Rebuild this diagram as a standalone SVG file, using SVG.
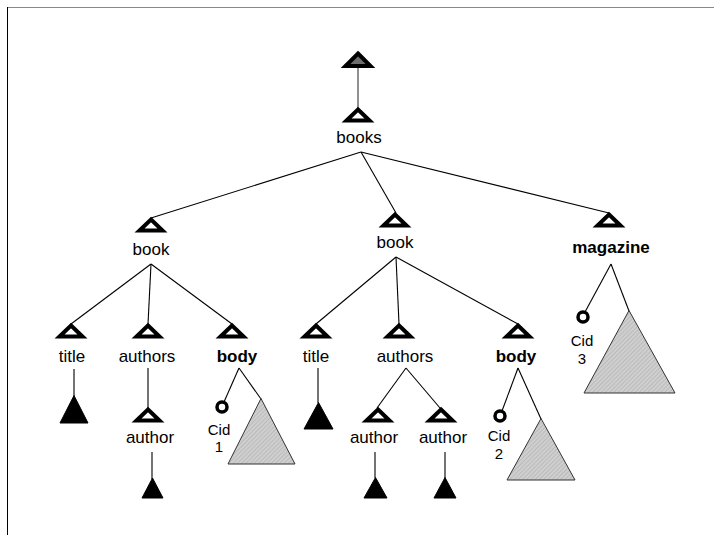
<svg xmlns="http://www.w3.org/2000/svg" width="714" height="537" viewBox="0 0 714 537">
  <style>
    .lbl { font-family: "Liberation Sans", Arial, sans-serif; font-size: 17px; fill: #000; text-anchor: middle; }
    .bold { font-weight: bold; }
    .cid { font-size: 15px; }
    .edge { stroke: #000; stroke-width: 1.1; fill: none; }
    .open { fill: #fff; stroke: #000; stroke-width: 4; stroke-linejoin: miter; }
    .leaf { fill: #000; stroke: #000; stroke-width: 1; }
    .sub { fill: url(#hatch); stroke: #333; stroke-width: 1; }
    .ref { fill: #fff; stroke: #000; stroke-width: 3.5; }
  </style>
  <defs>
    <!-- element marker: open triangle, origin at its top point -->
    <path id="elem" class="open" d="M0,2.5 L11.5,13.5 L-11.5,13.5 Z"/>
    <!-- fine grey hatching used for unexpanded subtrees -->
    <pattern id="hatch" width="3" height="3" patternUnits="userSpaceOnUse" patternTransform="rotate(45)">
      <rect width="3" height="3" fill="#cfcfcf"/>
      <line x1="0" y1="0" x2="0" y2="3" stroke="#a8a8a8" stroke-width="1"/>
    </pattern>
  </defs>

  <rect width="714" height="537" fill="#fff"/>
  <!-- frame -->
  <line x1="7" y1="7.5" x2="714" y2="7.5" stroke="#888" stroke-width="1"/>
  <line x1="7.5" y1="7" x2="7.5" y2="535" stroke="#000" stroke-width="1"/>

  <g id="connectors">
    <line x1="358" y1="68" x2="358" y2="108" stroke="#555" stroke-width="1.3"/>
    <line class="edge" x1="361" y1="152" x2="151" y2="218"/>
    <line class="edge" x1="361" y1="152" x2="396" y2="213"/>
    <line class="edge" x1="361" y1="152" x2="609" y2="213"/>
    <!-- left book -->
    <line class="edge" x1="151" y1="264" x2="71" y2="324"/>
    <line class="edge" x1="151" y1="264" x2="148" y2="324"/>
    <line class="edge" x1="151" y1="264" x2="232" y2="324"/>
    <line class="edge" x1="74" y1="369" x2="74" y2="396"/>
    <line class="edge" x1="148" y1="368" x2="148" y2="408"/>
    <line class="edge" x1="152" y1="452" x2="152" y2="479"/>
    <line class="edge" x1="239" y1="368" x2="224" y2="402"/>
    <line class="edge" x1="239" y1="368" x2="261" y2="399"/>
    <!-- middle book -->
    <line class="edge" x1="396" y1="257" x2="316" y2="324"/>
    <line class="edge" x1="396" y1="257" x2="399" y2="324"/>
    <line class="edge" x1="396" y1="257" x2="518" y2="324"/>
    <line class="edge" x1="318" y1="368" x2="318" y2="403"/>
    <line class="edge" x1="406" y1="368" x2="377" y2="408"/>
    <line class="edge" x1="406" y1="368" x2="440" y2="408"/>
    <line class="edge" x1="375" y1="452" x2="375" y2="478"/>
    <line class="edge" x1="445" y1="452" x2="445" y2="478"/>
    <line class="edge" x1="518" y1="368" x2="502" y2="411"/>
    <line class="edge" x1="518" y1="368" x2="541" y2="419"/>
    <!-- magazine -->
    <line class="edge" x1="611" y1="264" x2="585" y2="312"/>
    <line class="edge" x1="611" y1="264" x2="629" y2="311"/>
  </g>

  <g id="root">
    <path d="M358,53.5 L370.5,66 L345.5,66 Z" fill="#6e6e6e" stroke="#000" stroke-width="4"/>
  </g>

  <g id="books">
    <use href="#elem" x="358" y="107"/>
    <text class="lbl" x="359" y="143">books</text>
  </g>

  <g id="book1">
    <use href="#elem" x="151" y="217"/>
    <text class="lbl" x="151" y="255">book</text>
  </g>
  <g id="title1">
    <use href="#elem" x="71" y="323"/>
    <text class="lbl" x="72" y="362">title</text>
    <path class="leaf" d="M74,395.5 L88,423 L60,423 Z"/>
  </g>
  <g id="authors1">
    <use href="#elem" x="148" y="323"/>
    <text class="lbl" x="147" y="362">authors</text>
  </g>
  <g id="author1">
    <use href="#elem" x="148" y="407"/>
    <text class="lbl" x="150" y="443">author</text>
    <path class="leaf" d="M152.5,478 L163,498 L142,498 Z"/>
  </g>
  <g id="body1">
    <use href="#elem" x="232" y="323"/>
    <text class="lbl bold" x="237" y="362">body</text>
  </g>
  <g id="cid1">
    <circle class="ref" cx="222" cy="407" r="5"/>
    <text class="lbl cid" x="219" y="434.5">Cid</text>
    <text class="lbl cid" x="219" y="452">1</text>
  </g>
  <g id="content1">
    <path class="sub" d="M261,398.5 L295,464 L228,464 Z"/>
  </g>

  <g id="book2">
    <use href="#elem" x="395" y="212"/>
    <text class="lbl" x="395" y="248">book</text>
  </g>
  <g id="title2">
    <use href="#elem" x="316" y="323"/>
    <text class="lbl" x="316" y="362">title</text>
    <path class="leaf" d="M318.5,402.5 L333,429 L304,429 Z"/>
  </g>
  <g id="authors2">
    <use href="#elem" x="399" y="323"/>
    <text class="lbl" x="405" y="362">authors</text>
  </g>
  <g id="author2a">
    <use href="#elem" x="378" y="407"/>
    <text class="lbl" x="374" y="443">author</text>
    <path class="leaf" d="M375.5,477.5 L387,498 L364,498 Z"/>
  </g>
  <g id="author2b">
    <use href="#elem" x="441" y="407"/>
    <text class="lbl" x="443" y="443">author</text>
    <path class="leaf" d="M445,477.5 L456,498 L434,498 Z"/>
  </g>
  <g id="body2">
    <use href="#elem" x="518" y="323"/>
    <text class="lbl bold" x="516" y="362">body</text>
  </g>
  <g id="cid2">
    <circle class="ref" cx="500" cy="416" r="5"/>
    <text class="lbl cid" x="499" y="441">Cid</text>
    <text class="lbl cid" x="499" y="458.5">2</text>
  </g>
  <g id="content2">
    <path class="sub" d="M541,418.5 L575,480 L507,480 Z"/>
  </g>

  <g id="magazine">
    <use href="#elem" x="609" y="212"/>
    <text class="lbl bold" x="611" y="253">magazine</text>
  </g>
  <g id="cid3">
    <circle class="ref" cx="583" cy="317" r="5"/>
    <text class="lbl cid" x="582" y="346">Cid</text>
    <text class="lbl cid" x="582" y="363.5">3</text>
  </g>
  <g id="content3">
    <path class="sub" d="M629,310.5 L675,393 L584,393 Z"/>
  </g>
</svg>
